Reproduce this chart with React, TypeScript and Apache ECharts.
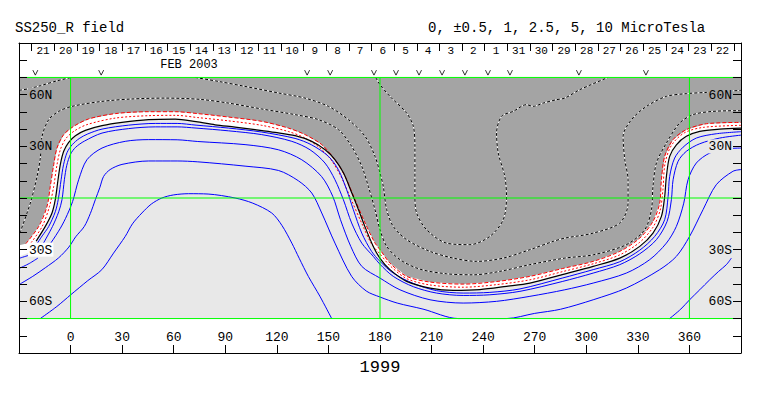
import React, { useEffect, useRef } from 'react';
import * as echarts from 'echarts';

const FONT = '"Liberation Mono", "DejaVu Sans Mono", monospace';

const lonRange = [-30, 390];
const latRange = [-90, 90];
const dataLatRange = [-70, 70];
const greenLons = [0, 180, 360];
const greenLats = [-70, 0, 70];
const dayLabels = ['21','20','19','18','17','16','15','14','13','12','11','10','9','8','7','6','5','4','3','2','1','31','30','29','28','27','26','25','24','23','22'];
const dayAxisRange = [-0.561, 31.315];
const orbitLons = [-20.5, 17.8, 137.6, 151, 176.5, 189.3, 202.7, 216.1, 229.4, 242.8, 255.6, 295.7, 334.7];
const markerLat = 72.8;
const latLabelText: Record<string, string> = { '60': '60N', '30': '30N', '-30': '30S', '-60': '60S' };
const leftLabelBg: Record<string, string> = { '60': 'g', '30': 'g', '-30': 'w', '-60': 'l' };
const rightLabelBg: Record<string, string> = { '60': 'g', '30': 'l', '-30': 'l', '-60': 'l' };

const COL_DARK = '#a4a4a4';
const COL_LIGHT = '#e8e8e8';

// contour 0 (black solid)
const black0 = [[-20,-25],[-14.7,-16.5],[-10.8,-8.7],[-8.9,-1],[-7.3,10.6],[-6,19.3],[-4,27.1],[-1.1,32.3],[2.8,36.2],[8.6,39.3],[18.3,42],[29.9,43.9],[45.4,45.5],[60.9,45.8],[73,44.3],[84.1,42.5],[95.7,41.2],[107.3,39.7],[119,38.1],[130.6,36.2],[140.3,32.9],[148.1,28],[153.9,22.2],[158.8,14.5],[163.6,2.9],[167.5,-6.8],[171.2,-16.5],[176.1,-28.1],[180,-35],[185.8,-41.6],[195.5,-48.4],[209.1,-52.3],[222.6,-53.6],[238.1,-53.2],[253.6,-51.3],[267.2,-49.4],[286,-44.5],[304,-39.7],[319.5,-34.9],[331.1,-28.1],[338.8,-20.4],[343.7,-10.7],[345.6,0.9],[346.6,12.5],[348.5,24.2],[352.4,30.9],[358.2,35.8],[366,38.7],[377.6,40],[390,40.6]];
// white band lower edge near the western border
const whiteEdgeWest = [[-30,-34],[-23.4,-31.3]];
// outer red (dashed) contour = edge of dark region
const redOuter = [[-26,-26.5],[-18.5,-16.5],[-13.7,-4.9],[-11.8,6.8],[-9.8,19.3],[-7.9,29],[-4,36.8],[1.8,41.6],[10.5,45.9],[26,49],[45.4,50.1],[60.9,50.1],[74,49],[91.9,47],[111.2,44.5],[126.7,40.6],[136.4,36.8],[146.1,31],[153.8,22.2],[159.7,12.5],[165.5,-1],[171.3,-14.5],[177.1,-26.2],[180,-30],[185.8,-37.8],[195.5,-45.5],[209.1,-48.8],[228.4,-50],[247.8,-48.5],[267.2,-45.5],[286,-41],[304,-36.8],[319.5,-31],[331.1,-23.3],[338.8,-13.6],[342.7,-3],[343.7,10.6],[345.6,24.2],[350.5,33.9],[358.2,39.7],[369.8,43.1],[390,43.9]];
const grayEdgeWest = [[-30,-27.5]];
const redInner = [[-23,-26],[-16.5,-16.5],[-12.3,-5],[-9.8,6.8],[-7.9,19.3],[-5.8,28.5],[-2.5,34.8],[2.3,39],[9.5,42.6],[26,46.4],[45.4,47.8],[60.9,48],[74,46.7],[91.9,44.8],[111.2,42.2],[126.7,38.6],[136.4,34.8],[144.5,29.5],[151.5,22.2],[157.3,12.5],[163.3,-1],[169.3,-14.5],[175,-26.5],[180,-32.5],[186,-39.5],[195.5,-46.8],[209.1,-50.5],[228.4,-51.8],[247.8,-50.3],[267.2,-47.5],[286,-42.8],[304,-38.2],[319.5,-33],[331.1,-25.7],[338.8,-17],[343,-7],[344.6,5],[345.8,20],[349.5,30.5],[357,37.8],[368,41],[390,42.2]];
// positive contours (blue)
const blue1 = [[-20.5,-28],[-16.5,-22],[-12.7,-16.5],[-8.9,-8],[-7.2,-1],[-5.5,10.6],[-4.1,19.3],[-2,26.5],[1,31],[5,34.5],[10,37.2],[18.3,40],[33.8,42.3],[49.3,43.3],[62,43.3],[73,42.3],[91.9,40.6],[111.2,38.3],[130.6,34.6],[140.3,30.8],[150,24.2],[155.8,16.4],[160.6,4.8],[164.5,-6.8],[169.4,-20.4],[175.1,-31],[180,-36.8],[187.7,-43.6],[199.4,-49.6],[212.9,-53.8],[228.4,-55.2],[243.9,-54.8],[261.4,-52.8],[286,-46.5],[304,-41.6],[319.5,-37],[331.1,-30.3],[339.8,-22.3],[345.6,-12.6],[347.6,0.9],[348.5,12.5],[351.4,23.2],[356.3,29.5],[364,34.8],[375.6,37.3],[390,38.5]];
const blue2 = [[-16.5,-27.5],[-10.5,-16.5],[-6.9,-8],[-5,-1],[-3.6,10.6],[-2.2,19],[0,25.5],[3,29.5],[8,33],[18.3,37.7],[33.8,40.3],[49.3,41.3],[62,41.3],[73,40.6],[91.9,39],[111.2,36.8],[128.7,32.9],[139.3,28],[148,20.3],[153.8,10.6],[158.7,-1],[163.5,-14.5],[169.4,-26.2],[176.1,-33.9],[180,-38.5],[187.7,-45.5],[199.4,-51.5],[212.9,-55.2],[228.4,-56.6],[243.9,-56.2],[261.4,-54.2],[286,-48.5],[304,-43.6],[319.5,-38.7],[331.1,-32.4],[340.8,-24.2],[347,-13.6],[349.5,-1],[350.5,10.6],[353.4,21.3],[358.2,27.1],[366,31.5],[377.6,34.8],[390,36.5]];
const blue3 = [[-18.6,-33],[-13.7,-29],[-7,-19.3],[-3,-12],[1.2,-2],[4.7,10.6],[9.5,22.2],[18.3,29],[31.8,32.9],[45.4,33.9],[62,33.8],[74,32.8],[101.5,31],[120.9,28],[134.5,22.2],[146,12.5],[152.5,1],[157,-12.6],[163,-28.1],[169.4,-39.7],[180,-46.5],[191.6,-53.3],[209.1,-59.1],[228.4,-61],[247.8,-60],[267.2,-57.1],[287.5,-53.3],[304,-49.4],[323.3,-43.6],[336.9,-35.8],[346.6,-26.2],[352.4,-16.5],[356.7,-3],[359.2,10.6],[364,20.3],[371.8,26.1],[381,28.5],[390,29]];
const blue4 = [[-29.5,-50],[-22,-45.5],[-14.7,-40.5],[-7,-34.8],[-1,-28.5],[3,-22.5],[8,-16.5],[11.5,-9],[14.4,-1],[17,6],[19.2,12.5],[23,16.5],[29.9,19.5],[45.4,21.5],[62,21.5],[74,21],[101.5,18.5],[120.9,16],[132.5,10],[140.3,2.9],[146.1,-8.7],[153.8,-26.2],[163.5,-45.5],[172,-54],[180,-57.5],[190,-61],[205,-64.5],[225.5,-70],[253.6,-70],[270,-67],[285,-64.6],[304,-59.1],[323.3,-52.3],[342.7,-41.6],[352.4,-33.9],[360.1,-22.3],[367.9,-6.8],[375.6,7.7],[385.3,15.5],[390,16.5]];
const blue5 = [[-17.6,-70],[-8,-63],[0.1,-56.2],[10,-48],[18.2,-41.6],[25,-32],[31.8,-22.3],[36,-15],[41.5,-8.7],[47,-3.5],[53.1,0],[60,1.8],[68.6,2.5],[80,2.3],[95.7,0],[106,-3],[117,-8.7],[123,-16],[128.7,-26.2],[133,-35],[138.3,-45.5],[145,-57],[151.9,-70]];
const blue5East = [[348.5,-70],[355,-64.5],[360.1,-59.1],[366,-53.3],[371.8,-47.5],[377,-42.6],[381.5,-38.7],[384.4,-34.9]];
const blueWestA = [[-29.5,-40.7],[-24,-38],[-19,-34.9]];
const blueWestB = [[-29.5,-34.9],[-24.4,-33.3]];
// negative contours (black/white dotted)
const dotNW = [[-30,62.5],[-24,63.5],[-17.6,65.2],[-8,68],[0.5,70]];
const dotD1 = [[-29.5,-20.4],[-23.4,-2.9],[-19.5,12.5],[-17.6,23.2],[-16.6,35.8],[-12.7,45.5],[-6.9,50.3],[0.8,53.2],[18.3,56.1],[35.7,57.5],[55,58],[75,57.3],[91.9,55.1],[111.2,51.7],[130.6,48.4],[144.2,45.5],[155.8,39.7],[163.5,30],[169.4,18.4],[173.2,6.8],[177.1,-6.8],[180,-18.4],[183.9,-28.1],[191.6,-35.8],[203.2,-41.3],[218.7,-44],[234.2,-44.6],[249.7,-42.6],[267.2,-38.7],[287.5,-34.9],[304,-33],[323.3,-27.1],[334,-18.4],[337.9,-6.8],[338.8,6.7],[340.8,20.3],[346.6,31.9],[354.3,43.5],[362.1,48.4],[373.7,50.3],[390,50.7]];
const dotD2 = [[72.5,70],[86,67.7],[101.5,64.8],[120.9,61],[136.4,58],[150,53.2],[161.6,45.5],[171.3,35.8],[177.1,24.2],[180,14.5],[181.9,6.8],[183.9,-6.8],[187.7,-16.5],[195.5,-24.2],[209.1,-31],[222.6,-34.9],[236.2,-36.8],[251.7,-34.9],[267.2,-30],[280.7,-25.2],[287.5,-23.3],[304,-20.4],[319.5,-14.5],[324.3,-3],[324.3,10.6],[322.4,22.2],[321.4,35.8],[326.3,45.5],[335,53.2],[346.6,59],[358.2,60.6],[369.8,61.3],[390,62.5]];
const dotD3 = [[177.5,70],[180,65.8],[185.8,59],[195.5,49.3],[199.4,41.6],[200.3,30],[200.3,16.4],[200.3,0.9],[201.3,-8.7],[207.1,-18.4],[218.7,-26.2],[232.3,-27.1],[243.9,-22.3],[251.7,-12.6],[253.6,0.9],[252.6,12.5],[248.8,26.1],[247.8,37.7],[250.7,47.4],[257.5,50.3],[265.2,54.2],[269.1,53.2],[274.9,55.1],[282.7,57.1],[287.5,58],[296.2,62.9],[312.7,70]];

function polySeries(pts: number[][], color: string) {
  return {
    type: 'custom',
    coordinateSystem: 'cartesian2d',
    silent: true,
    z: 1,
    data: [[pts[0][0], pts[0][1]]],
    renderItem: (_p: any, api: any) => ({
      type: 'polygon',
      shape: { points: pts.map((p) => api.coord(p)) },
      style: { fill: color, stroke: null },
    }),
  };
}

function lineSeries(pts: number[][], color: string, width: number, type: any, z = 2, smooth: any = 0.3) {
  return {
    type: 'line',
    data: pts,
    symbol: 'none',
    showSymbol: false,
    smooth,
    silent: true,
    z,
    lineStyle: { color, width, type },
  };
}

function dottedSeries(pts: number[][]) {
  return [lineSeries(pts, '#ffffff', 1, 'solid'), lineSeries(pts, '#000000', 1, [3, 2])];
}

function latFormatter(bg: Record<string, string>) {
  return (v: number) => {
    const k = String(v);
    if (!latLabelText[k]) return '';
    return '{' + bg[k] + '|' + latLabelText[k] + '}';
  };
}

const richBase = { fontFamily: FONT, fontSize: 13, color: '#000', padding: [1, 1, 0, 1] };
const rich = {
  g: { ...richBase, backgroundColor: COL_DARK },
  w: { ...richBase, backgroundColor: '#ffffff' },
  l: { ...richBase, backgroundColor: COL_LIGHT },
};

const axisLineStyle = { show: true, onZero: false, lineStyle: { color: '#000', width: 1 } };

export default function App() {
  const ref = useRef<HTMLDivElement>(null);
  useEffect(() => {
    if (!ref.current) return;
    const chart = echarts.init(ref.current, undefined, { renderer: 'svg' });
    const [lon0, lon1] = lonRange;
    const [la0, la1] = dataLatRange;
    const dataRect = [[lon0, la0], [lon1, la0], [lon1, la1], [lon0, la1]];
    const whitePoly = [...whiteEdgeWest, ...black0, [lon1, la1], [lon0, la1]];
    const grayPoly = [...grayEdgeWest, ...redOuter, [lon1, la1], [lon0, la1]];

    const series: any[] = [
      polySeries(dataRect, COL_LIGHT),
      polySeries(whitePoly, '#ffffff'),
      polySeries(grayPoly, COL_DARK),
      ...dottedSeries(dotNW),
      ...dottedSeries(dotD1),
      ...dottedSeries(dotD2),
      ...dottedSeries(dotD3),
      lineSeries(redOuter, '#ff0000', 1, [4, 2]),
      lineSeries(redInner, '#ff0000', 1, [2, 2]),
      lineSeries(blue1, '#0000ff', 1, 'solid'),
      lineSeries(blue2, '#0000ff', 1, 'solid'),
      lineSeries(blue3, '#0000ff', 1, 'solid'),
      lineSeries(blue4, '#0000ff', 1, 'solid'),
      lineSeries(blue5, '#0000ff', 1, 'solid'),
      lineSeries(blue5East, '#0000ff', 1, 'solid'),
      lineSeries(blueWestA, '#0000ff', 1, 'solid'),
      lineSeries(blueWestB, '#0000ff', 1, 'solid'),
      lineSeries(black0, '#000000', 1.2, 'solid'),
      ...greenLats.map((la) => lineSeries([[lon0, la], [lon1, la]], '#00ff00', 1, 'solid', 3, false)),
      ...greenLons.map((lo) => lineSeries([[lo, la0], [lo, la1]], '#00ff00', 1, 'solid', 3, false)),
      {
        type: 'scatter',
        data: orbitLons.map((lo) => [lo, markerLat]),
        symbol: 'path://M0,0L4,8L8,0',
        symbolSize: [5, 5],
        clip: false,
        silent: true,
        z: 3,
        itemStyle: { color: 'none', borderColor: '#000', borderWidth: 1 },
      },
    ];

    const option: any = {
      animation: false,
      backgroundColor: '#ffffff',
      title: [
        { text: 'SS250_R field', left: 15, top: 21, padding: 0, textStyle: { fontFamily: FONT, fontSize: 14, fontWeight: 'normal', color: '#000' } },
        { text: '0, \u00b10.5, 1, 2.5, 5, 10 MicroTesla', left: 428, top: 21, padding: 0, textStyle: { fontFamily: FONT, fontSize: 14, fontWeight: 'normal', color: '#000' } },
      ],
      graphic: [
        { type: 'text', x: 189, y: 65, style: { text: 'FEB 2003', font: '12px ' + FONT, fill: '#000', textAlign: 'center', textVerticalAlign: 'middle' }, z: 10 },
      ],
      grid: { left: 19, right: 22, top: 43, bottom: 43, containLabel: false },
      xAxis: [
        {
          type: 'value', position: 'bottom', min: lonRange[0], max: lonRange[1], interval: 30,
          axisLine: axisLineStyle,
          axisTick: { show: true, inside: true, length: 8, lineStyle: { color: '#000' } },
          axisLabel: { show: true, inside: true, margin: 9, fontFamily: FONT, fontSize: 13, color: '#000', formatter: (v: number) => (v < 0 || v > 360 ? '' : String(v)) },
          splitLine: { show: false },
          name: '1999', nameLocation: 'middle', nameGap: 4,
          nameTextStyle: { fontFamily: FONT, fontSize: 17, color: '#000', verticalAlign: 'top' },
        },
        {
          type: 'value', position: 'top', min: dayAxisRange[0], max: dayAxisRange[1],
          axisLine: axisLineStyle,
          axisTick: { show: true, inside: true, length: 8, lineStyle: { color: '#000' }, customValues: Array.from({ length: dayLabels.length + 1 }, (_, i) => i) },
          axisLabel: { show: true, inside: true, margin: 2, fontFamily: FONT, fontSize: 11, color: '#000', customValues: dayLabels.map((_, i) => i + 0.5), formatter: (v: number) => dayLabels[Math.floor(v)] ?? '' },
          splitLine: { show: false },
        },
      ],
      yAxis: [
        {
          type: 'value', position: 'left', min: latRange[0], max: latRange[1], interval: 10, z: 10,
          axisLine: axisLineStyle,
          axisTick: { show: true, inside: true, length: 8, lineStyle: { color: '#000' } },
          axisLabel: { show: true, inside: true, margin: 9, formatter: latFormatter(leftLabelBg), rich },
          splitLine: { show: false },
        },
        {
          type: 'value', position: 'right', min: latRange[0], max: latRange[1], interval: 10, z: 10,
          axisLine: axisLineStyle,
          axisTick: { show: true, inside: true, length: 8, lineStyle: { color: '#000' } },
          axisLabel: { show: true, inside: true, margin: 8, formatter: latFormatter(rightLabelBg), rich },
          splitLine: { show: false },
        },
      ],
      series,
    };
    chart.setOption(option);
    return () => chart.dispose();
  }, []);
  return <div ref={ref} style={{ position: 'fixed', left: 0, top: 0, width: 763, height: 396 }} />;
}
